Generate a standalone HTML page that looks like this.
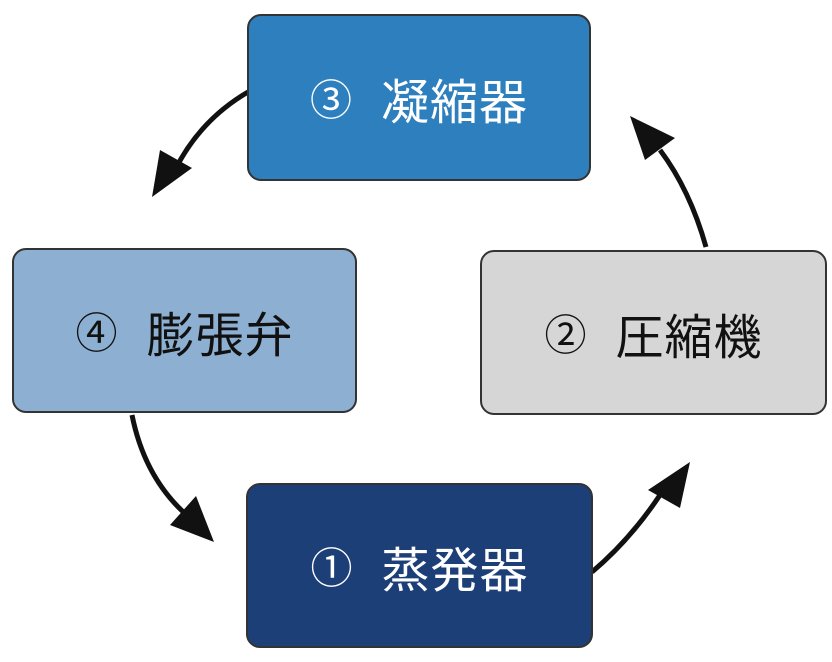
<!DOCTYPE html>
<html><head><meta charset="utf-8"><style>
body{margin:0;width:832px;height:662px;background:#fff;position:relative;overflow:hidden;font-family:"Liberation Sans","Noto Sans CJK JP",sans-serif}
.b{position:absolute;border:2px solid #333;border-radius:14px;box-sizing:border-box;display:flex;align-items:center;justify-content:center;font-size:48px;letter-spacing:1px}
.b span{font-size:42px;margin-right:28px}
</style></head><body>
<svg width="832" height="662" style="position:absolute;left:0;top:0">
<g fill="none" stroke="#111" stroke-width="5">
<path d="M248,92 Q200,120 175,170"/>
<path d="M132,415 Q145,480 190,518"/>
<path d="M592,572 Q630,540 660,495"/>
<path d="M706,247 Q690,190 660,150"/>
</g>
<g fill="#111">
<path d="M152,197 L160,150 L192,168 z"/>
<path d="M214,542 L170,525 L196,496 z"/>
<path d="M690,462 L680,508 L648,490 z"/>
<path d="M630,116 L675,138 L645,160 z"/>
</g>
</svg>
<div class="b" style="left:247px;top:14px;width:344px;height:167px;background:#2d7fbe;color:#fff"><span>③</span>凝縮器</div>
<div class="b" style="left:12px;top:248px;width:345px;height:165px;background:#8db0d2;color:#111"><span>④</span>膨張弁</div>
<div class="b" style="left:480px;top:250px;width:347px;height:165px;background:#d6d6d6;color:#111"><span>②</span>圧縮機</div>
<div class="b" style="left:246px;top:483px;width:347px;height:165px;background:#1d3f78;color:#fff"><span>①</span>蒸発器</div>
</body></html>
